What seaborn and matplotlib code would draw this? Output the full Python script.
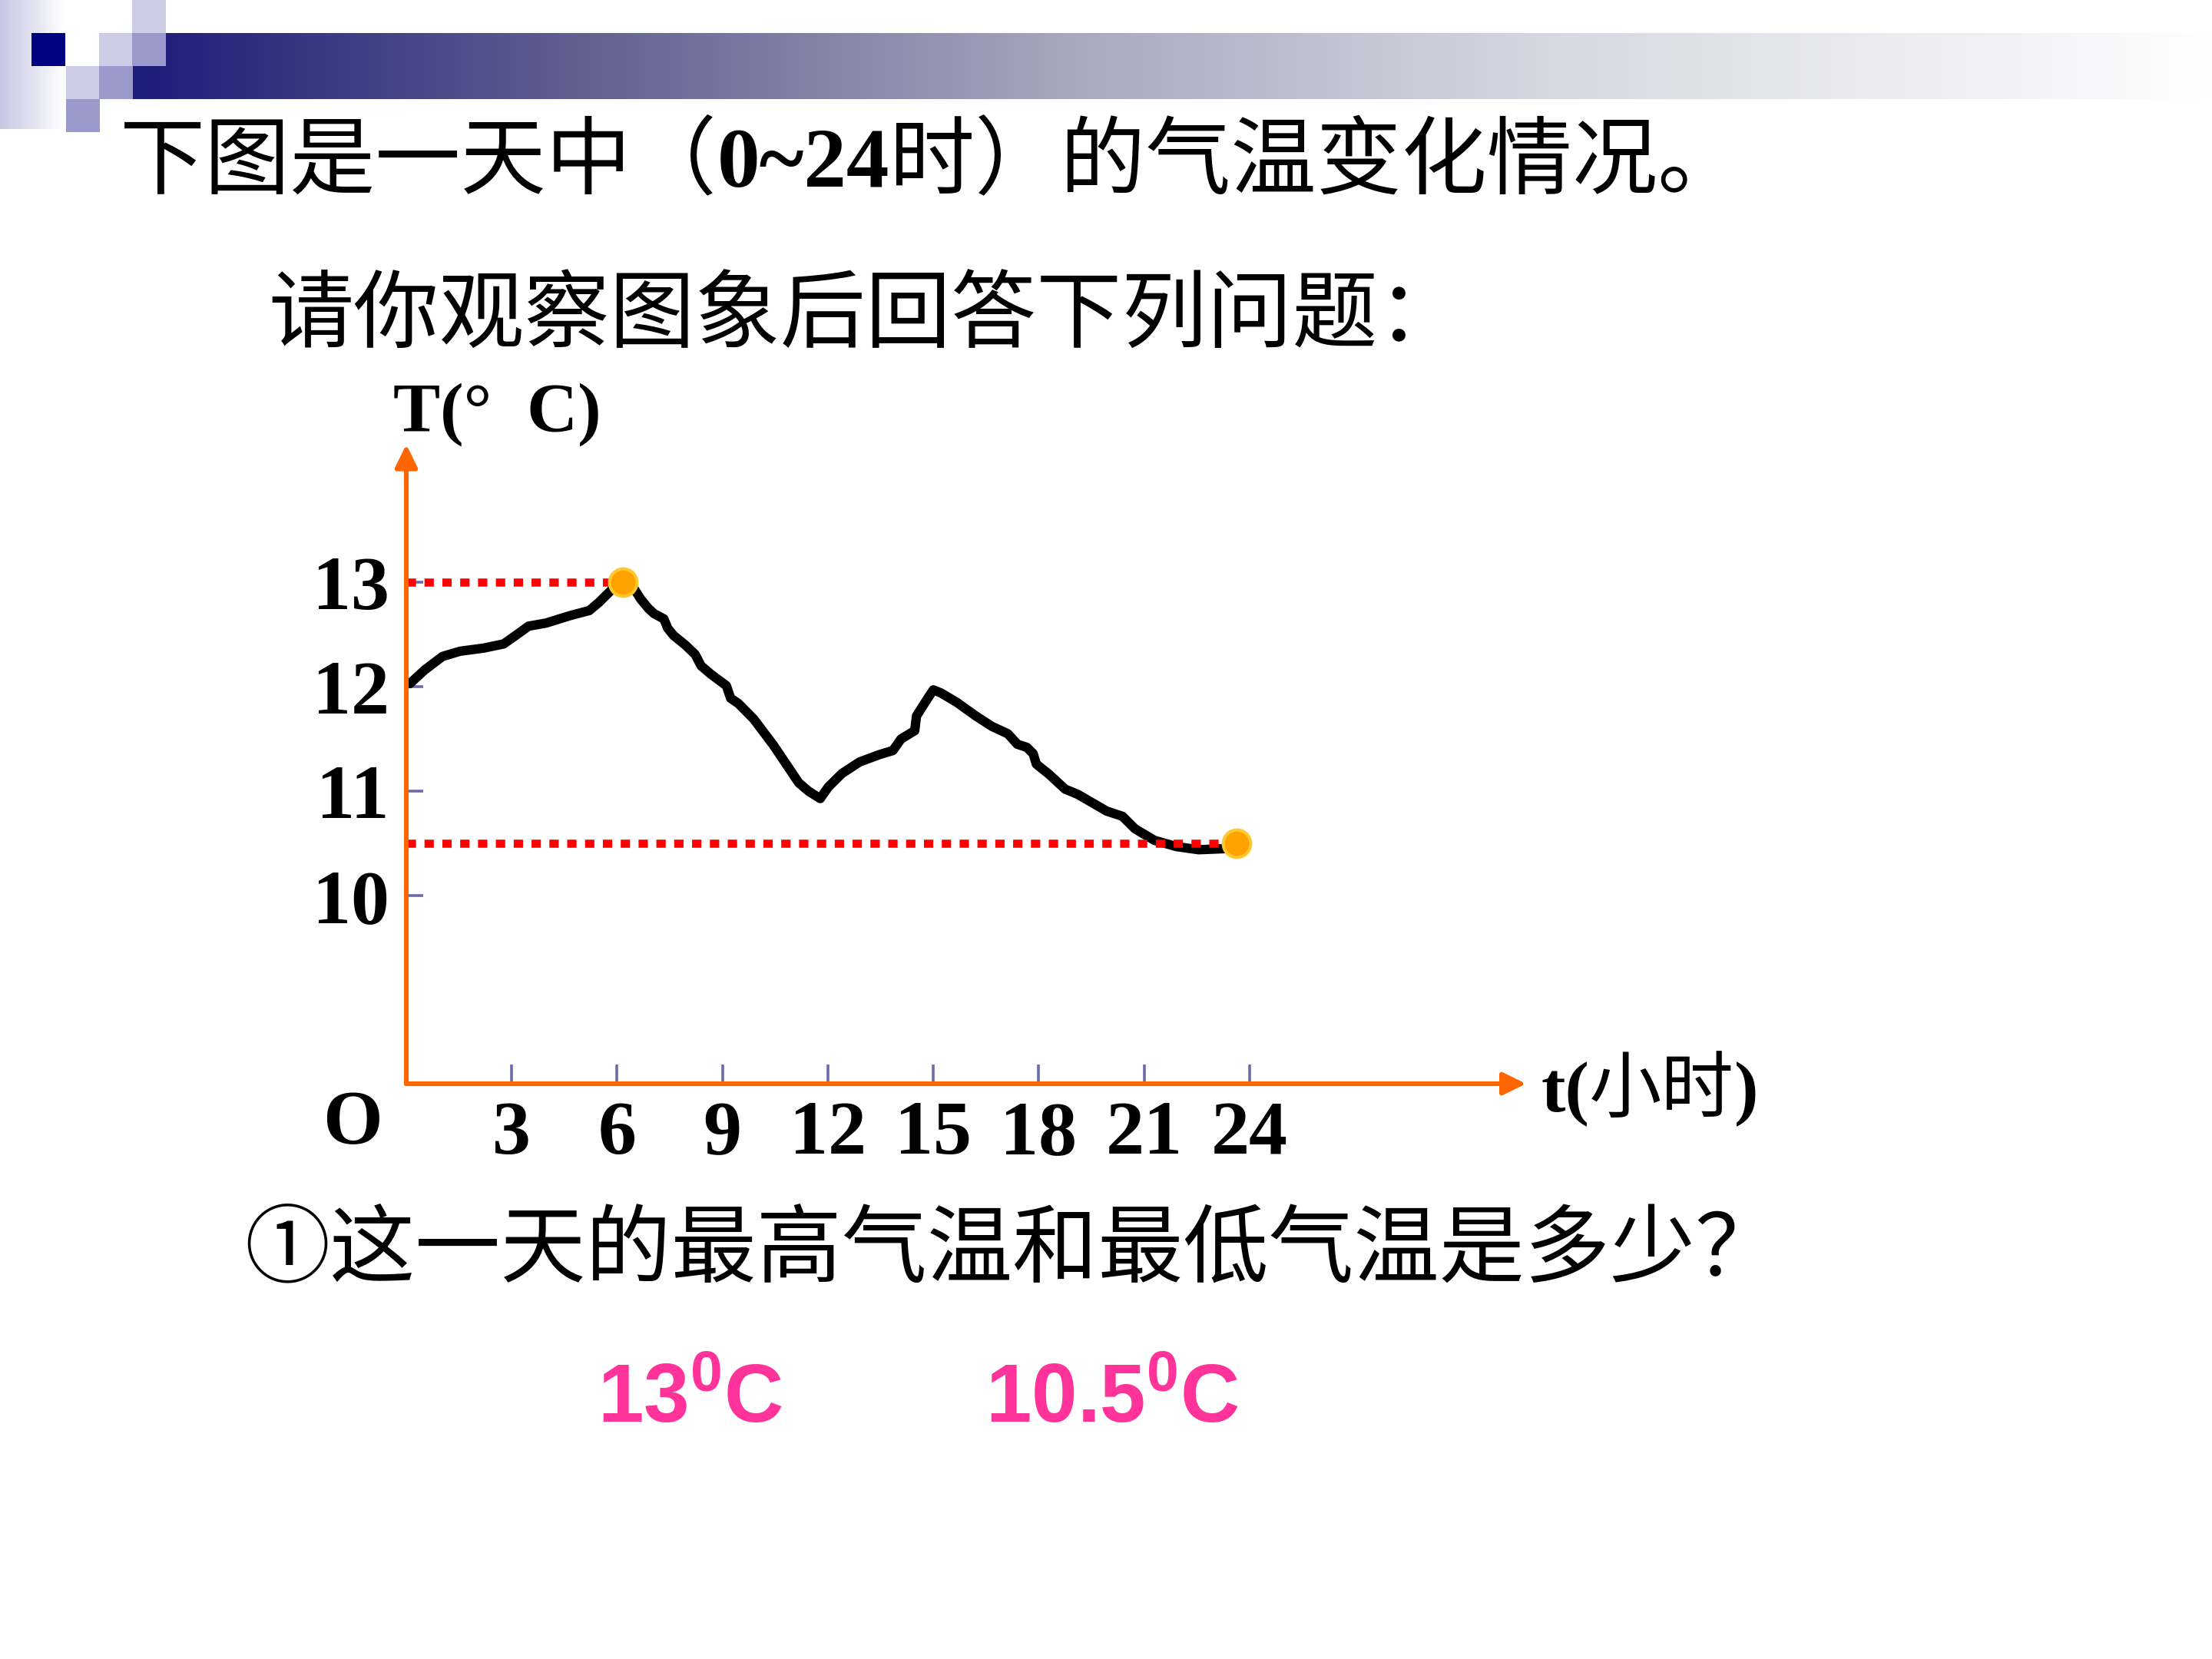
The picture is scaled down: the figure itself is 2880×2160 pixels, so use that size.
import numpy as np
import pandas as pd
import matplotlib
matplotlib.use("Agg")
import matplotlib.pyplot as plt
from matplotlib.patches import Rectangle
from matplotlib.offsetbox import TextArea, HPacker, AnnotationBbox
import seaborn as sns

# ---------------- data ----------------
hours = [0.10, 0.52, 1.03, 1.53, 2.20, 2.77, 3.15, 3.48, 3.98, 4.65,
         5.21, 5.49, 5.82, 6.16, 6.50, 6.67, 6.89, 7.05, 7.33, 7.44,
         7.61, 7.94, 8.22, 8.39, 8.67, 9.11, 9.23, 9.45, 9.89, 10.45,
         11.17, 11.45, 11.78, 12.01, 12.40, 12.90, 13.46, 13.85, 14.08, 14.47,
         14.52, 14.67, 14.86, 15.00, 15.22, 15.67, 16.21, 16.67, 17.12, 17.39,
         17.66, 17.84, 17.93, 18.30, 18.75, 19.11, 19.47, 19.93, 20.38, 20.74,
         21.29, 21.92, 22.55, 23.28, 23.64]
temps = [12.03, 12.16, 12.29, 12.34, 12.37, 12.41, 12.50, 12.58, 12.61, 12.68,
         12.73, 12.81, 12.92, 13.00, 12.93, 12.84, 12.75, 12.70, 12.65, 12.56,
         12.49, 12.40, 12.31, 12.20, 12.12, 12.01, 11.89, 11.84, 11.69, 11.44,
         11.08, 11.00, 10.93, 11.04, 11.17, 11.28, 11.35, 11.39, 11.50, 11.58,
         11.72, 11.80, 11.90, 11.97, 11.94, 11.85, 11.72, 11.62, 11.55, 11.45,
         11.42, 11.36, 11.26, 11.16, 11.02, 10.97, 10.90, 10.81, 10.76, 10.64,
         10.53, 10.47, 10.44, 10.45, 10.49]
key_hours = [6.16, 23.64]          # highest / lowest marked points
key_temps = [13.0, 10.5]
x_ticks = [3, 6, 9, 12, 15, 18, 21, 24]
x_tick_labels = ["3", "6", "9", "12", "15", "18", "21", "24"]
y_ticks = [10, 11, 12, 13]
y_tick_labels = ["10", "11", "12", "13"]

title_parts = ["下图是一天中（", "0~24", "时）的气温变化情况。"]
subtitle = "请你观察图象后回答下列问题："
question = "①这一天的最高气温和最低气温是多少？"
y_label = "T(°  C)"
x_label_parts = ["t(", "小时", ")"]
answers = [r"$\mathbf{13^{0}C}$", r"$\mathbf{10.5^{0}C}$"]

# ---------------- style ----------------
sns.set_theme(style="white")
plt.rcParams["font.family"] = ["Liberation Serif", "Noto Sans CJK SC"]
plt.rcParams["mathtext.fontset"] = "custom"
plt.rcParams["mathtext.bf"] = "Liberation Sans:bold"
plt.rcParams["mathtext.rm"] = "Liberation Sans:bold"
plt.rcParams["mathtext.it"] = "Liberation Sans:bold"

W, H, DPI = 2880, 2160, 200
fig = plt.figure(figsize=(W / DPI, H / DPI), dpi=DPI, facecolor="white")

# overlay in pixel coordinates for slide decorations and texts
ov = fig.add_axes([0, 0, 1, 1])
ov.set_xlim(0, W)
ov.set_ylim(H, 0)
ov.axis("off")
ov.patch.set_alpha(0)

# left pale gradient column
t = np.linspace(0, 1, 200)
c0 = np.array([198, 198, 228]) / 255.0
colimg = (c0[None, :] * (1 - t[:, None]) + 1.0 * t[:, None])[None, :, :]
ov.imshow(colimg, extent=(0, 84, 168, 0), aspect="auto", interpolation="bilinear", zorder=0)

# header gradient bar
stops = [0, 0.21, 0.46, 0.68, 0.95, 1.0]
cols = np.array([(28, 28, 122), (95, 95, 145), (170, 170, 192),
                 (215, 215, 226), (248, 248, 250), (255, 255, 255)]) / 255.0
tt = np.linspace(0, 1, 600)
bar = np.stack([np.interp(tt, stops, cols[:, k]) for k in range(3)], axis=1)[None, :, :]
ov.imshow(bar, extent=(172, W, 129, 43), aspect="auto", interpolation="bilinear", zorder=0)
ov.set_xlim(0, W)
ov.set_ylim(H, 0)

light, mid, navy = "#CCCCE6", "#9999CC", "#000080"
for (x, y, c) in [(41, 43, navy), (129, 43, light), (172, 43, mid), (172, 0, light),
                  (86, 86, light), (129, 86, mid), (86, 129, mid)]:
    ov.add_patch(Rectangle((x, y), 44, 43, facecolor=c, edgecolor="none", zorder=1))

cjk = dict(family="Noto Sans CJK SC", color="black")
serifb = dict(family="Liberation Serif", fontweight="bold", color="black")


def packed(parts, props, xy):
    areas = [TextArea(s, textprops=p) for s, p in zip(parts, props)]
    box = HPacker(children=areas, align="baseline", pad=0, sep=0)
    ab = AnnotationBbox(box, xy, xycoords="data", box_alignment=(0, 0.5),
                        frameon=False, pad=0)
    ov.add_artist(ab)


packed(title_parts, [dict(cjk, fontsize=40), dict(serifb, fontsize=40), dict(cjk, fontsize=40)],
       (156, 211))
ov.text(349, 413, subtitle, fontsize=40, va="center", ha="left", **cjk)
ov.text(318, 1628, question, fontsize=40, va="center", ha="left", **cjk)
ov.text(512, 562, y_label, fontsize=33, ha="left", va="baseline", **serifb)
packed(x_label_parts, [dict(serifb, fontsize=34), dict(cjk, fontsize=34), dict(serifb, fontsize=34)],
       (2006, 1420))
ov.text(459, 1464, "O", fontsize=36, ha="center", va="center", **serifb)
ov.text(778, 1852, answers[0], fontsize=38.5, color="#FF3399", ha="left", va="baseline")
ov.text(1283, 1852, answers[1], fontsize=38.5, color="#FF3399", ha="left", va="baseline")

# ---------------- chart ----------------
ax = fig.add_axes([529 / W, 1 - 1411 / H, (1987 - 529) / W, (1411 - 578.6) / H])
ax.set_xlim(0, 31.87)
ax.set_ylim(8.2, 14.32)
ax.patch.set_alpha(0)
for s in ax.spines.values():
    s.set_visible(False)

df = pd.DataFrame({"hour": hours, "temp": temps})
sns.lineplot(data=df, x="hour", y="temp", ax=ax, color="black", linewidth=4.4,
             solid_joinstyle="round", solid_capstyle="round", zorder=2)
ax.set_xlabel("")
ax.set_ylabel("")

dot_style = (0, (1.15, 1.05))
ax.plot([0, key_hours[0]], [key_temps[0], key_temps[0]], color="#FF0000", lw=3.8,
        linestyle=dot_style, dash_capstyle="butt", zorder=3)
ax.plot([0, key_hours[1]], [key_temps[1], key_temps[1]], color="#FF0000", lw=3.8,
        linestyle=dot_style, dash_capstyle="butt", zorder=3)

sns.scatterplot(x=key_hours, y=key_temps, ax=ax, s=165, color="#FFA200",
                edgecolor="#FFC82E", linewidth=1.5, zorder=4, clip_on=False)

arrow_kw = dict(arrowstyle="-|>,head_length=0.45,head_width=0.22", color="#FF6600",
                lw=2.2, mutation_scale=20, shrinkA=0, shrinkB=0)
ax.annotate("", xy=(0, 1), xytext=(0, 0), xycoords="axes fraction", arrowprops=arrow_kw)
ax.annotate("", xy=(1, 0), xytext=(0, 0), xycoords="axes fraction", arrowprops=arrow_kw)

ax.set_xticks(x_ticks)
ax.set_xticklabels(x_tick_labels, fontsize=36, fontweight="bold", family="Liberation Serif")
ax.set_yticks(y_ticks)
ax.set_yticklabels(y_tick_labels, fontsize=36, fontweight="bold", family="Liberation Serif")
ax.tick_params(axis="x", direction="in", length=9, width=1.3, color="#6B6BA8",
               pad=8, bottom=True, labelcolor="black")
ax.tick_params(axis="y", direction="in", length=8, width=1.3, color="#6B6BA8",
               pad=8, left=True, labelcolor="black")
ax.grid(False)

fig.savefig("out.png", dpi=DPI, facecolor="white")
